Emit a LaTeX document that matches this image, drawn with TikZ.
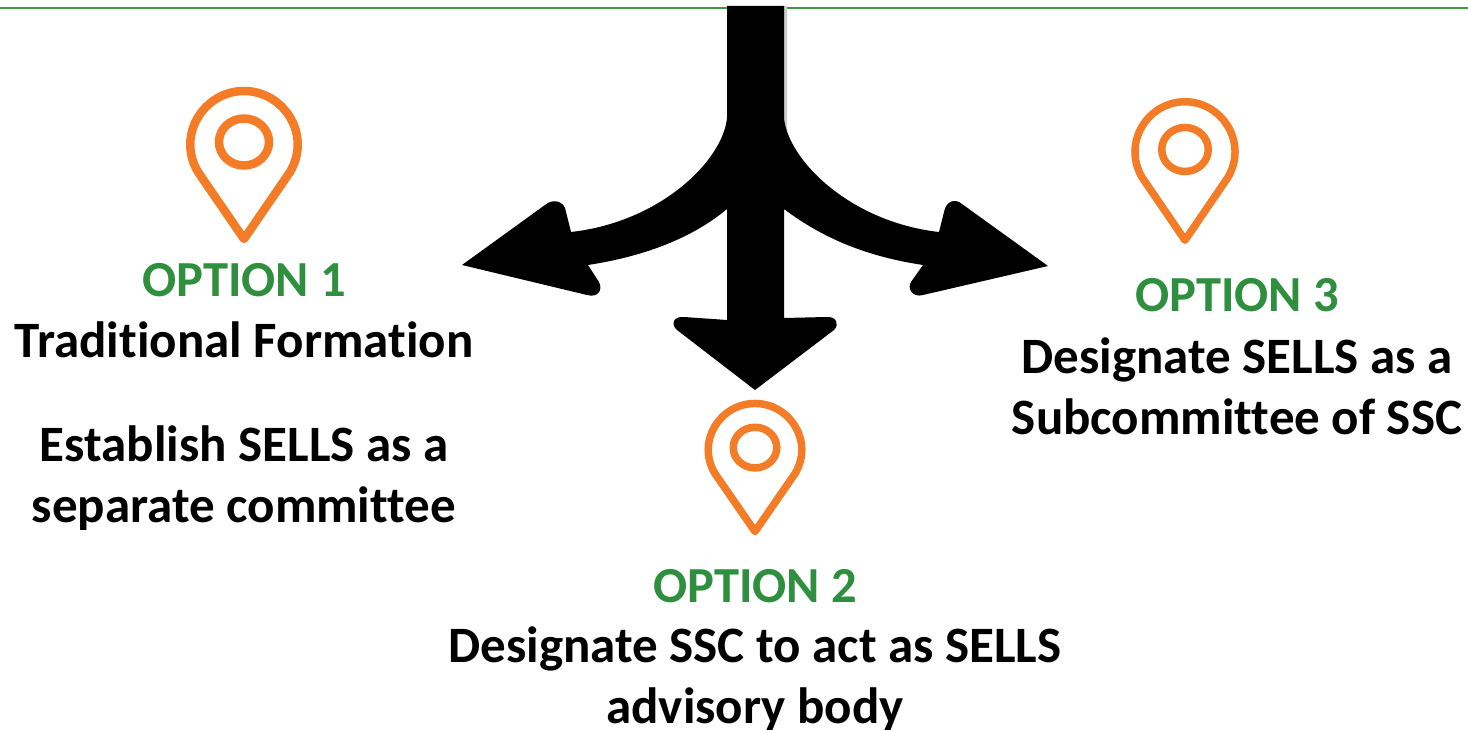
\documentclass[tikz,border=0pt]{standalone}
\usepackage{fontspec}
\setmainfont[Ligatures=NoCommon]{Carlito}
\definecolor{optgreen}{HTML}{2E8F3E}
\definecolor{rulegreen}{HTML}{3F9A48}
\definecolor{pinorange}{HTML}{F47C26}
\tikzset{
  x=1pt,y=-1pt,
  opttitle/.style={font=\fontsize{50.5}{61}\selectfont\bfseries,text=optgreen,inner sep=0pt,anchor=center},
  optbody/.style={font=\fontsize{51}{61}\selectfont\bfseries,text=black,inner sep=0pt,anchor=center,align=center},
  pinline/.style={draw=pinorange,line join=round,line cap=round}
}
% pin: centre x, top y, outer width, outer height, stroke width
\newcommand{\mappin}[5]{%
  \begin{scope}[shift={(#1,#2)},xscale=#3/116,yscale=#4/156]
    \draw[pinline,line width=#5] (0,152) -- (-46,85)
      .. controls (-68,48) and (-40,4) .. (0,4)
      .. controls (40,4) and (68,48) .. (46,85) -- cycle;
    \draw[pinline,line width=#5] (0,55) circle [x radius=25,y radius=23.5];
  \end{scope}}
\begin{document}
\begin{tikzpicture}
\useasboundingbox (0,0) rectangle (1468,730);
\fill[white] (0,0) rectangle (1468,730);
\coordinate (ruleL) at (0,8);
\coordinate (ruleR) at (1468,8);
\draw[rulegreen,line width=2.4pt] (ruleL) -- (ruleR);
% gray antialias edge of the arrow stem
\fill[gray!40] (784,6) -- (787,6) -- (787,132) -- (784,125) -- cycle;
\fill[black]
  (727,6) -- (784,6) -- (784,118)
  .. controls (788,160) and (850,222) .. (939,232)
  -- (944,212) .. controls (946,201) and (955,198) .. (962,204)
  -- (1048,266) -- (923,295)
  .. controls (912,298) and (907,288) .. (911,282)
  -- (923,265)
  .. controls (870,257) and (825,240) .. (784,209)
  -- (784,318) -- (826,317)
  .. controls (836,316) and (840,324) .. (834,330)
  -- (755,390) -- (677,330)
  .. controls (670,324) and (674,316) .. (684,317)
  -- (727,320) -- (727,209)
  .. controls (690,240) and (640,257) .. (588,265)
  -- (599,282) .. controls (603,290) and (598,298) .. (587,295)
  -- (462,265) -- (545,205)
  .. controls (553,198) and (565,201) .. (566,212)
  -- (571,232)
  .. controls (661,222) and (723,160) .. (727,118) -- cycle;
\mappin{244}{87}{116}{156}{8.5pt}
\mappin{755}{400}{101}{135}{7.5pt}
\mappin{1185}{98}{108}{146}{7.5pt}
\node[opttitle] (t1) at (244,280) {OPTION 1};
\node[optbody] (b1a) at (244,340) {Traditional Formation};
\node[optbody] (b1b) at (244,478) {Establish SELLS as a\\separate committee};
\node[opttitle] (t2) at (755,586) {OPTION 2};
\node[optbody] (b2) at (755,679) {Designate SSC to act as SELLS\\advisory body};
\node[opttitle] (t3) at (1237,295) {OPTION 3};
\node[optbody] (b3) at (1237,386) {Designate SELLS as a\\Subcommittee of SSC};
\end{tikzpicture}
\end{document}
